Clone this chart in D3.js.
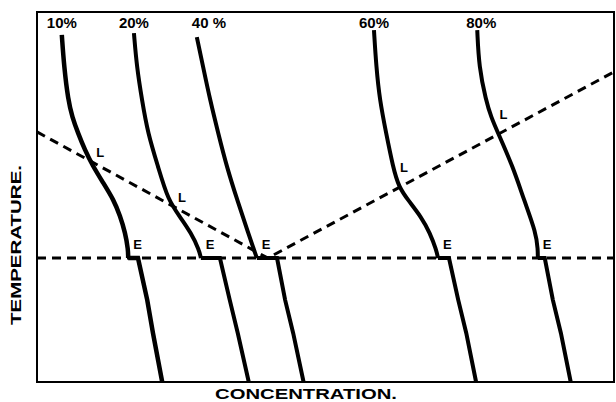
<!DOCTYPE html>
<html>
<head>
<meta charset="utf-8">
<script src="https://cdn.jsdelivr.net/npm/d3@7"></script>
<style>
  body { margin: 0; background: #fff; }
  svg { display: block; }
  text { font-family: "Liberation Sans", Arial, sans-serif; font-weight: bold; fill: #000; }
</style>
</head>
<body>
<div id="chart"></div>
<script>
// concentration (x, 0-100) / temperature (y, arbitrary 0-100)
var labels = ['10%', '20%', '40 %', '60%', '80%'];

var EUTECTIC = 33.5;

// liquidus (dashed V), meets eutectic at ~40%
var liquidus = [[0, 67.6], [40, EUTECTIC], [100, 83.8]];

// cooling curves
var c10 = [[4.3, 93.8], [4.7, 85.1], [5.4, 76.2], [6.1, 71.6], [7.1, 67.3], [8.3, 62.7], [9.6, 58.6],
  [11.4, 54.0], [13.3, 49.2], [14.4, 44.9], [15.3, 40.3], [15.8, 35.7], [15.8, 33.5],
  [17.5, 33.5], [19.1, 22.2], [20.1, 13.2], [21.7, 0]];
var c20 = [[16.8, 94.3], [17.3, 85.1], [18.2, 76.2], [19.2, 67.3], [21.0, 58.1], [22.7, 49.2],
  [24.8, 44.6], [26.7, 40.3], [28.1, 35.7], [28.4, 33.5],
  [31.7, 33.5], [33.4, 22.2], [34.8, 13.2], [36.7, 0]];
var c40 = [[27.7, 93.2], [28.8, 85.1], [30.0, 76.2], [31.4, 67.3], [32.9, 58.1], [34.7, 49.2],
  [36.6, 40.3], [38.1, 33.5],
  [41.6, 33.5], [43.0, 22.2], [44.4, 13.2], [46.2, 0]];
var c60 = [[58.4, 95.1], [58.8, 85.1], [59.4, 76.2], [60.5, 67.3], [61.7, 58.1], [62.7, 52.7],
  [64.3, 49.2], [66.6, 44.6], [68.1, 40.3], [69.2, 35.7], [69.5, 33.5],
  [71.4, 33.5], [73.0, 22.2], [74.4, 13.2], [76.1, 0]];
var c80 = [[76.3, 95.1], [76.6, 85.1], [77.8, 76.2], [78.7, 71.6], [79.9, 67.3], [82.5, 58.1],
  [84.4, 49.2], [86.5, 40.3], [86.8, 35.7], [86.8, 33.5],
  [88.0, 33.5], [89.4, 22.2], [90.8, 13.2], [92.5, 0]];

var curves = [c10, c20, c40, c60, c80];
var hasL = [true, true, false, true, true];

var W = 616, H = 402;
var svg = d3.select('#chart').append('svg').attr('width', W).attr('height', H);

var x = d3.scaleLinear().domain([0, 100]).range([37, 614]);
var y = d3.scaleLinear().domain([0, 100]).range([382, 12]);

// frame
svg.append('rect')
  .attr('x', x(0)).attr('y', y(100))
  .attr('width', x(100) - x(0)).attr('height', y(0) - y(100))
  .attr('fill', 'none').attr('stroke', '#000').attr('stroke-width', 2);

var straight = d3.line().x(function(d) { return x(d[0]); }).y(function(d) { return y(d[1]); });
var smooth = d3.line().x(function(d) { return x(d[0]); }).y(function(d) { return y(d[1]); })
  .curve(d3.curveBasis);

function dashedPath(pts) {
  svg.append('path').attr('d', straight(pts))
    .attr('fill', 'none').attr('stroke', '#000').attr('stroke-width', 3)
    .attr('stroke-dasharray', '9,6');
}

// eutectic line + liquidus
dashedPath([[0, EUTECTIC], [100, EUTECTIC]]);
dashedPath(liquidus);

function liqAt(c) {
  var i = c <= liquidus[1][0] ? 0 : 1;
  var a = liquidus[i], b = liquidus[i + 1];
  return a[1] + (b[1] - a[1]) * (c - a[0]) / (b[0] - a[0]);
}

curves.forEach(function(pts, i) {
  var k = pts.findIndex(function(p) { return p[1] === EUTECTIC; });
  var upper = pts.slice(0, k + 1), lower = pts.slice(k);
  var sw = i === 0 ? 4.5 : 4;
  svg.append('path').attr('d', smooth(upper))
    .attr('fill', 'none').attr('stroke', '#000').attr('stroke-width', sw);
  svg.append('path').attr('d', straight(lower))
    .attr('fill', 'none').attr('stroke', '#000').attr('stroke-width', sw)
    .attr('stroke-linejoin', 'miter');

  // percent label
  var shift = [-15, -15, -5, -15, -11][i];
  svg.append('text').attr('x', x(pts[0][0]) + shift).attr('y', 27.5)
    .attr('font-size', 15).text(labels[i]);

  // E label
  svg.append('text').attr('x', x(pts[k][0]) + 5).attr('y', y(EUTECTIC) - 9.5)
    .attr('font-size', 13).text('E');

  // L label at crossing with liquidus
  if (hasL[i]) {
    for (var j = 0; j < k; j++) {
      var d0 = pts[j][1] - liqAt(pts[j][0]), d1 = pts[j + 1][1] - liqAt(pts[j + 1][0]);
      if (d0 >= 0 && d1 < 0) {
        var f = d0 / (d0 - d1);
        var cx = pts[j][0] + f * (pts[j + 1][0] - pts[j][0]);
        var cy = pts[j][1] + f * (pts[j + 1][1] - pts[j][1]);
        var right = cx > liquidus[1][0];
        svg.append('text')
          .attr('x', x(cx) + (right ? 1 : 6))
          .attr('y', y(cy) - (right ? 15 : 4))
          .attr('font-size', 13).text('L');
        break;
      }
    }
  }
});

// axis titles
svg.append('text')
  .attr('x', 306).attr('y', 399)
  .attr('text-anchor', 'middle').attr('font-size', 15)
  .attr('textLength', 182).attr('lengthAdjust', 'spacingAndGlyphs')
  .text('CONCENTRATION.');

svg.append('text')
  .attr('transform', 'translate(21,245) rotate(-90)')
  .attr('text-anchor', 'middle').attr('font-size', 15)
  .attr('textLength', 160).attr('lengthAdjust', 'spacingAndGlyphs')
  .text('TEMPERATURE.');
</script>
</body>
</html>
